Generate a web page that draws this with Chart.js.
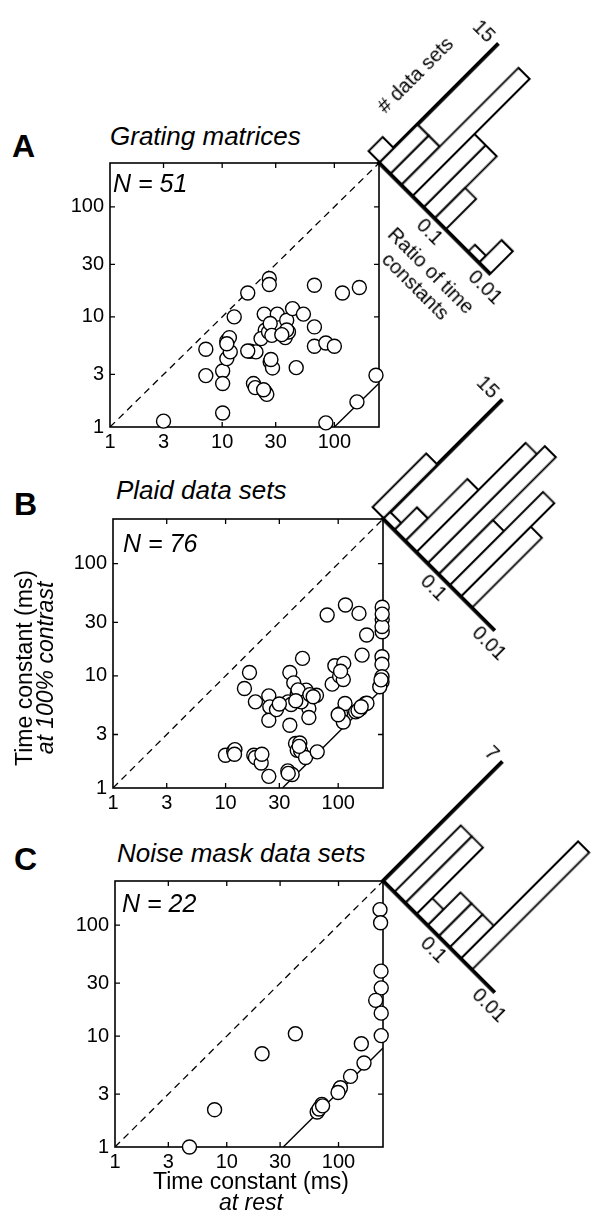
<!DOCTYPE html>
<html>
<head>
<meta charset="utf-8">
<script src="https://cdn.jsdelivr.net/npm/chart.js@4.4.1/dist/chart.umd.min.js"></script>
<style>
  body { margin: 0; background: #fff; }
  #page { position: relative; width: 593px; height: 1215px; overflow: hidden; background: #fff;
          font-family: 'Liberation Sans', Arial, Helvetica, sans-serif; color: #000; }
  .abs { position: absolute; white-space: nowrap; line-height: 1; }
  .letter { font-weight: bold; font-size: 32px; }
  .title { font-style: italic; font-size: 26px; }
  .nlabel { font-style: italic; font-size: 25px; }
  .axtitle { font-size: 23px; text-align: center; line-height: 21px; }
  .hlabel { font-size: 20px; }
  canvas { position: absolute; }
  .hist { position: absolute; width: 0; height: 0; transform-origin: 0 0; transform: rotate(45deg); }
</style>
</head>
<body>
<div id="page">
  <div class="abs letter" style="left:12px;top:130px">A</div>
  <div class="abs title" style="left:110px;top:123px">Grating matrices</div>
  <div class="abs letter" style="left:14px;top:488px">B</div>
  <div class="abs title" style="left:116px;top:477px">Plaid data sets</div>
  <div class="abs letter" style="left:14px;top:843px">C</div>
  <div class="abs title" style="left:117px;top:840px">Noise mask data sets</div>

  <canvas id="scatterA"></canvas>
  <canvas id="scatterB"></canvas>
  <canvas id="scatterC"></canvas>

  <div class="abs nlabel" style="left:113px;top:171px">N = 51</div>
  <div class="abs nlabel" style="left:123px;top:531px">N = 76</div>
  <div class="abs nlabel" style="left:122px;top:891px">N = 22</div>

  <div class="abs axtitle" style="left:35px;top:668px;transform:translate(-50%,-50%) rotate(-90deg)">Time constant (ms)<br><i>at 100% contrast</i></div>
  <div class="abs axtitle" style="left:251px;top:1192px;transform:translate(-50%,-50%)">Time constant (ms)<br><i>at rest</i></div>

  <div class="hist" id="histA">
    <canvas id="histCanvasA"></canvas>
    <div class="abs hlabel" style="left:-37px;top:-88px;transform:translate(-50%,-50%) rotate(-90deg)"># data sets</div>
    <div class="abs hlabel" style="left:113px;top:50px;transform:translate(-50%,-50%);text-align:center;line-height:22px">Ratio of time<br>constants</div>
  </div>
  <div class="hist" id="histB"><canvas id="histCanvasB"></canvas></div>
  <div class="hist" id="histC"><canvas id="histCanvasC"></canvas></div>
</div>

<script>
// shared log axes (ms)
const tickValues = [1, 3, 10, 30, 100];
const timeMin = 1;
const timeMax = 250;
const unityLine = [1, 250];

// A: grating matrices, time constant at rest (x) and at 100% contrast (y)
const gratingRest = [3, 10.1, 84, 159, 235, 7.15, 7.15, 10.1, 10.1, 11, 11, 11.6, 11.8, 12.8, 16.9,
  26.3, 26.3, 17.8, 20, 19, 19.7, 24.2, 25, 23.7, 24.2, 22.2, 25.9, 26.8, 28.1, 31, 36.5, 37.6,
  42.4, 53, 39, 45.7, 66.4, 66.4, 66.4, 84, 100, 118, 167, 26.8, 27.7, 37.6, 11, 23.4, 27.2, 34, 16.9];
const gratingContrast = [1.13, 1.34, 1.09, 1.69, 2.95, 5.08, 2.93, 3.23, 2.48, 4.18, 6.05, 6.49, 4.81, 10, 16.5,
  22.3, 19.7, 4.88, 4.81, 2.48, 2.28, 2.08, 1.98, 10.6, 7.56, 6.35, 7.3, 3.9, 3.44, 10.6, 6.49, 9.33,
  11.9, 10.6, 7.3, 3.46, 19.4, 8.11, 5.41, 5.8, 5.41, 16.5, 18.5, 8.7, 6.8, 7.6, 5.7, 2.18, 4.1, 6.9, 4.9];
const gratingLimitX = [100, 250];
const gratingLimitY = [1, 2.5];

// B: plaid data sets
const plaidRest = [9.97, 11.8, 12.1, 17.8, 18.4, 20.7, 24.2, 35.7, 39, 41.8, 45.6, 43.3, 46.4, 51.3, 65.1,
  16.3, 14.7, 18.4, 24.2, 24.7, 24.2, 28.3, 37.2, 40.3, 35.9, 38.2, 37.2, 43.3, 48.2, 48.8, 51.9, 54.9,
  54.9, 64.1, 47, 79.8, 88.4, 93.4, 103, 111, 112, 105, 115, 111, 116, 153, 163, 179, 143, 158, 175, 180,
  246, 246, 246, 245, 245, 245, 245, 234, 150, 160, 245, 30, 44, 56, 21, 45, 60, 100, 246, 240, 36, 12, 105, 42];
const plaidContrast = [1.96, 2.13, 2.2, 1.96, 1.87, 1.67, 1.27, 1.42, 1.32, 2.49, 2.52, 2.17, 2.14, 1.87, 2.1,
  10.7, 7.7, 5.86, 6.63, 5.29, 4.02, 5, 10.7, 8.66, 5.86, 5.55, 3.63, 6.95, 14.3, 5.98, 7.45, 5.11,
  4.25, 6.72, 5.86, 34.8, 8.43, 12.3, 9.93, 9.27, 12.9, 4.61, 5.66, 3.88, 42.8, 36, 15.3, 23.1, 4.77, 5.11, 5.66, 5.7,
  40.8, 31.8, 24.7, 14.8, 12.7, 9.8, 8.84, 7.98, 4.9, 5.3, 27.5, 5.6, 7.5, 6.8, 2, 2.35, 6.5, 4.5, 35.5, 9.2, 1.35, 2, 11, 6];
const plaidLimitX = [32, 250];
const plaidLimitY = [1, 7.8];

// C: noise mask data sets
const noiseRest = [4.64, 7.78, 20.7, 41.1, 64.4, 69, 70.9, 101, 104, 128, 169, 160, 235, 238, 240, 241, 215,
  241, 241, 67, 99, 72];
const noiseContrast = [1, 2.17, 6.93, 10.5, 2.07, 2.29, 2.42, 3.24, 3.42, 4.33, 5.71, 8.53, 138, 105, 38.5,
  27.2, 21, 16.1, 10.1, 2.2, 3.1, 2.35];
const noiseLimitX = [32, 250];
const noiseLimitY = [1, 7.8];

// histograms of the ratio of time constants, bins in decades below 1 (bin centres)
const ratioBins = [-0.1, 0.1, 0.3, 0.5, 0.7, 0.9, 1.1, 1.3, 1.5, 1.7, 1.9];
const gratingCounts = [2, 5, 5, 15, 8, 8, 4, 0, 0, 1, 3];
const plaidCounts = [7, 1, 3, 8, 14, 15, 7, 12, 9, 0, 0];
const noiseCounts = [0, 0, 4, 4, 1, 2, 2, 2, 7, 0, 0];
const ratioTicks = [1, 2];
const ratioTickLabels = ['0.1', '0.01'];
const gratingCountMax = 15;
const plaidCountMax = 15;
const noiseCountMax = 7;

const FAMILY = "'Liberation Sans', Arial, Helvetica, sans-serif";
const tickFont = { family: FAMILY, size: 20 };

// layout (px)
const AXIS_W = 70, AXIS_H = 40, PAD_TOP = 10, PAD_RIGHT = 16;
const HIST_W = 157, HIST_H = 167, HIST_AXIS_W = 50, HIST_AXIS_H = 40, HIST_PAD_TOP = 20, HIST_PAD_RIGHT = 30;
const BAR_LINE = 2.3;

const panels = [
  { id: 'A', box: [110, 163, 269, 264], rest: gratingRest, contrast: gratingContrast,
    limX: gratingLimitX, limY: gratingLimitY, counts: gratingCounts, countMax: gratingCountMax },
  { id: 'B', box: [113, 519, 270, 269], rest: plaidRest, contrast: plaidContrast,
    limX: plaidLimitX, limY: plaidLimitY, counts: plaidCounts, countMax: plaidCountMax },
  { id: 'C', box: [115, 881, 268, 266], rest: noiseRest, contrast: noiseContrast,
    limX: noiseLimitX, limY: noiseLimitY, counts: noiseCounts, countMax: noiseCountMax },
];

// box round the plot with small inward ticks on every side
const frame = {
  id: 'frame',
  beforeDatasetsDraw(chart) {
    const { ctx, chartArea: a, scales: { x, y } } = chart;
    ctx.save();
    ctx.strokeStyle = '#000';
    ctx.lineWidth = 1.6;
    ctx.strokeRect(a.left, a.top, a.width, a.height);
    ctx.lineWidth = 1.3;
    ctx.beginPath();
    tickValues.slice(1).forEach((v) => {
      const px = x.getPixelForValue(v);
      const py = y.getPixelForValue(v);
      ctx.moveTo(px, a.bottom); ctx.lineTo(px, a.bottom - 5);
      ctx.moveTo(px, a.top); ctx.lineTo(px, a.top + 5);
      ctx.moveTo(a.left, py); ctx.lineTo(a.left + 5, py);
      ctx.moveTo(a.right, py); ctx.lineTo(a.right - 5, py);
    });
    ctx.stroke();
    ctx.restore();
  }
};

const logAxis = (isX) => ({
  type: 'logarithmic',
  min: timeMin,
  max: timeMax,
  afterBuildTicks: (s) => { s.ticks = tickValues.map((v) => ({ value: v })); },
  afterFit: (s) => {
    if (isX) { s.height = AXIS_H; s.paddingLeft = 0; s.paddingRight = 0; }
    else { s.width = AXIS_W; s.paddingTop = 0; s.paddingBottom = 0; }
  },
  ticks: { callback: (v) => String(v), color: '#000', font: tickFont, padding: isX ? 3 : 6,
           maxRotation: 0, autoSkip: false },
  grid: { display: false, drawTicks: false },
  border: { display: false }
});

const toPoints = (xs, ys) => xs.map((x, i) => ({ x, y: ys[i] }));

const makeScatter = (p) => {
  const [left, top, w, h] = p.box;
  const canvas = document.getElementById('scatter' + p.id);
  canvas.width = AXIS_W + w + PAD_RIGHT;
  canvas.height = PAD_TOP + h + AXIS_H;
  canvas.style.left = (left - AXIS_W) + 'px';
  canvas.style.top = (top - PAD_TOP) + 'px';

  new Chart(canvas, {
    type: 'scatter',
    data: {
      datasets: [
        { data: toPoints(p.rest, p.contrast), pointRadius: 7, pointBackgroundColor: '#fff',
          pointBorderColor: '#000', pointBorderWidth: 1.4, clip: false },
        { data: toPoints(unityLine, unityLine), showLine: true, borderColor: '#000', borderWidth: 1.3,
          borderDash: [7, 5], pointRadius: 0 },
        { data: toPoints(p.limX, p.limY), showLine: true, borderColor: '#000', borderWidth: 1.4,
          pointRadius: 0 }
      ]
    },
    options: {
      animation: false,
      responsive: false,
      events: [],
      layout: { padding: { top: PAD_TOP, right: PAD_RIGHT, left: 0, bottom: 0 } },
      plugins: { legend: { display: false }, tooltip: { enabled: false } },
      scales: { x: logAxis(true), y: logAxis(false) }
    },
    plugins: [frame]
  });
};

const makeHist = (p) => {
  const [left, top, w] = p.box;
  const wrap = document.getElementById('hist' + p.id);
  wrap.style.left = (left + w) + 'px';
  wrap.style.top = top + 'px';
  const canvas = document.getElementById('histCanvas' + p.id);
  canvas.width = HIST_AXIS_W + HIST_W + HIST_PAD_RIGHT;
  canvas.height = HIST_PAD_TOP + HIST_H + HIST_AXIS_H;
  canvas.style.left = -HIST_AXIS_W + 'px';
  canvas.style.top = -(HIST_PAD_TOP + HIST_H) + 'px';
  // neighbouring bars overlap by one outline width so shared edges stay single
  const binPx = HIST_W * (ratioBins[1] - ratioBins[0]) / (ratioTicks[1]);

  new Chart(canvas, {
    type: 'bar',
    data: {
      datasets: [{
        data: ratioBins.map((x, i) => ({ x, y: p.counts[i] })),
        backgroundColor: '#fff', borderColor: '#000', borderWidth: BAR_LINE, borderSkipped: false,
        barPercentage: 1 + BAR_LINE / binPx, categoryPercentage: 1, clip: false
      }]
    },
    options: {
      animation: false,
      responsive: false,
      events: [],
      layout: { padding: { top: HIST_PAD_TOP, right: HIST_PAD_RIGHT, left: 0, bottom: 0 } },
      plugins: { legend: { display: false }, tooltip: { enabled: false } },
      scales: {
        x: {
          type: 'linear', min: 0, max: 2, offset: false,
          afterBuildTicks: (s) => { s.ticks = ratioTicks.map((v) => ({ value: v })); },
          afterFit: (s) => { s.height = HIST_AXIS_H; s.paddingLeft = 0; s.paddingRight = 0; },
          ticks: { callback: (v, i) => ratioTickLabels[i], color: '#000', font: tickFont, padding: 1,
                   labelOffset: 6, maxRotation: 0, autoSkip: false },
          grid: { display: false, drawTicks: false },
          border: { color: '#000', width: 3.8 }
        },
        y: {
          min: 0, max: p.countMax,
          afterBuildTicks: (s) => { s.ticks = [{ value: p.countMax }]; },
          afterFit: (s) => { s.width = HIST_AXIS_W; s.paddingTop = 0; s.paddingBottom = 0; },
          ticks: { callback: (v) => String(v), color: '#000', font: tickFont, padding: 8 },
          grid: { display: false, drawTicks: false },
          border: { color: '#000', width: 3.8 }
        }
      }
    }
  });
};

panels.forEach((p) => {
  makeScatter(p);
  makeHist(p);
});
</script>
</body>
</html>
